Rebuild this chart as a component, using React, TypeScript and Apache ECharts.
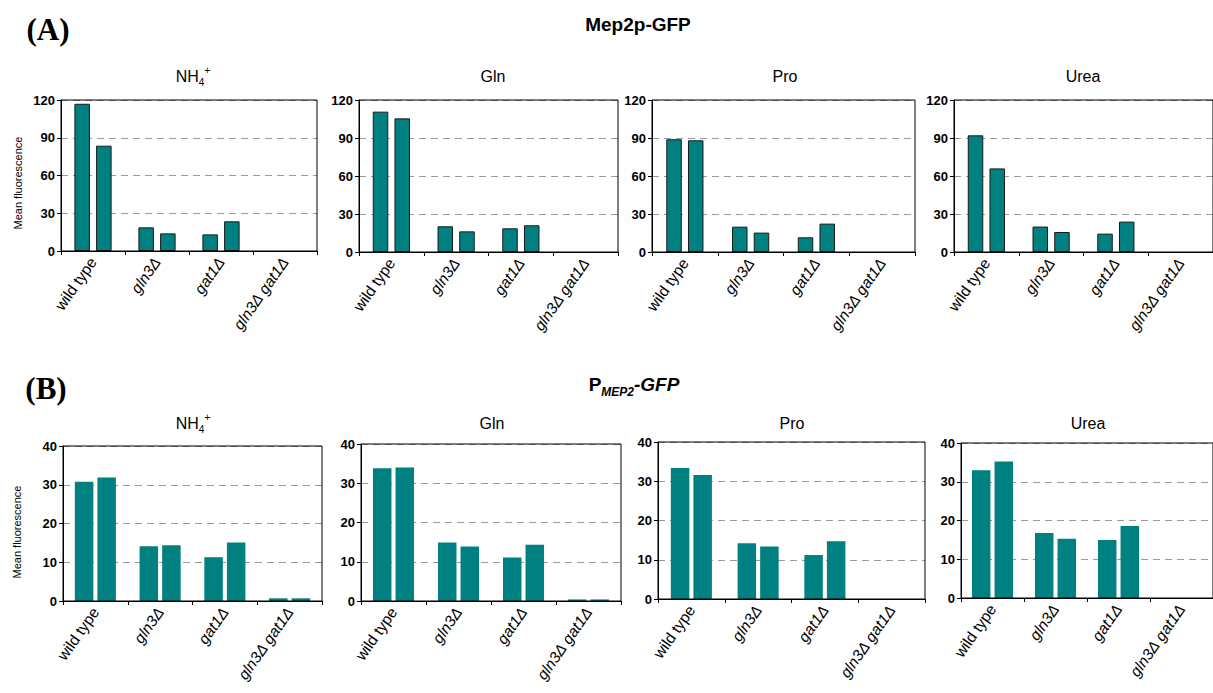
import React, { useEffect, useRef } from "react";
import * as echarts from "echarts";

const categories = ["wild type", "gln3Δ", "gat1Δ", "gln3Δ gat1Δ"];
const mediaNames = ["NH4+", "Gln", "Pro", "Urea"];
const ticksA = [0, 30, 60, 90, 120];
const ticksB = [0, 10, 20, 30, 40];

// (A) Mep2p-GFP : two measurements per strain
const aNh4First = [117, 18.8, 13.2, 0];
const aNh4Second = [83.7, 14, 23.6, 0];
const aGlnFirst = [110.8, 20.3, 18.7, 0];
const aGlnSecond = [105.5, 16.3, 21.1, 0];
const aProFirst = [89, 20, 11.6, 0];
const aProSecond = [88.2, 15.3, 22.4, 0];
const aUreaFirst = [92.1, 20.1, 14.5, 0];
const aUreaSecond = [66, 15.8, 24, 0];

// (B) PMEP2-GFP
const bNh4First = [30.8, 14.1, 11.3, 0.7];
const bNh4Second = [31.9, 14.4, 15.1, 0.7];
const bGlnFirst = [33.8, 14.9, 11.1, 0.4];
const bGlnSecond = [34.0, 13.9, 14.3, 0.4];
const bProFirst = [33.4, 14.2, 11.2, 0];
const bProSecond = [31.6, 13.4, 14.7, 0];
const bUreaFirst = [33.0, 16.8, 15.0, 0];
const bUreaSecond = [35.2, 15.3, 18.6, 0];

const SANS = "'Liberation Sans', Arial, sans-serif";
const TEAL = "#008080";

export default function App() {
  const ref = useRef<HTMLDivElement>(null);

  useEffect(() => {
    if (!ref.current) return;
    const chart = echarts.init(ref.current, null, { renderer: "svg" });

    const grids = [
      { left: 61, top: 100, width: 256, height: 151 },
      { left: 359, top: 100, width: 259, height: 152 },
      { left: 652, top: 100, width: 263, height: 152 },
      { left: 954, top: 100, width: 263, height: 152 },
      { left: 63, top: 446, width: 259, height: 155 },
      { left: 361, top: 444, width: 260, height: 157 },
      { left: 658, top: 442, width: 267, height: 157 },
      { left: 961, top: 443, width: 264, height: 155 },
    ];

    const dataSets = [
      [aNh4First, aNh4Second],
      [aGlnFirst, aGlnSecond],
      [aProFirst, aProSecond],
      [aUreaFirst, aUreaSecond],
      [bNh4First, bNh4Second],
      [bGlnFirst, bGlnSecond],
      [bProFirst, bProSecond],
      [bUreaFirst, bUreaSecond],
    ];

    const xAxis: any[] = [];
    const yAxis: any[] = [];
    const series: any[] = [];

    grids.forEach((g, i) => {
      const isA = i < 4;
      const ticks = isA ? ticksA : ticksB;
      xAxis.push({
        type: "category",
        gridIndex: i,
        data: categories,
        axisLine: { show: true, lineStyle: { color: "#000", width: 1 } },
        axisTick: { show: true, length: 4, lineStyle: { color: "#000" } },
        splitLine: { show: false },
        axisLabel: {
          interval: 0,
          rotate: 55,
          margin: 8,
          formatter: (v: string) => (v === "wild type" ? `{n|${v}}` : `{i|${v}}`),
          rich: {
            n: { fontFamily: SANS, fontSize: 15.5, color: "#000", fontStyle: "normal" },
            i: { fontFamily: SANS, fontSize: 15.5, color: "#000", fontStyle: "italic" },
          },
        },
      });
      yAxis.push({
        type: "value",
        gridIndex: i,
        min: ticks[0],
        max: ticks[ticks.length - 1],
        interval: ticks[1] - ticks[0],
        axisLine: { show: true, lineStyle: { color: "#000", width: 1 } },
        axisTick: { show: true, length: 4, lineStyle: { color: "#000" } },
        axisLabel: {
          fontFamily: SANS,
          fontSize: 13,
          fontWeight: "bold",
          color: "#000",
          margin: 6,
        },
        splitLine: {
          show: true,
          lineStyle: { color: "#9a9a9a", type: [7, 5], width: 1 },
        },
      });
      dataSets[i].forEach((vals) => {
        series.push({
          type: "bar",
          xAxisIndex: i,
          yAxisIndex: i,
          data: vals.map((v) =>
            isA && v === 0 ? { value: v, itemStyle: { borderWidth: 0 } } : v
          ),
          barWidth: isA ? 15.5 : 18.5,
          barGap: isA ? "40%" : "22%",
          itemStyle: isA
            ? { color: TEAL, borderColor: "#1a1a1a", borderWidth: 1 }
            : { color: TEAL, borderWidth: 0 },
        });
      });
    });

    const titleXA = [193, 493, 785, 1083];
    const titleXB = [193, 492, 792, 1088];

    const panelTitle = (name: string, x: number, y: number) => {
      if (name === "NH4+") {
        return {
          type: "text",
          x,
          y,
          style: {
            text: "{a|NH}{b|4}{c|+}",
            align: "center",
            verticalAlign: "middle",
            rich: {
              a: { fontFamily: SANS, fontSize: 16, fill: "#000", lineHeight: 22, verticalAlign: "middle" },
              b: { fontFamily: SANS, fontSize: 10, fill: "#000", lineHeight: 22, verticalAlign: "bottom" },
              c: { fontFamily: SANS, fontSize: 10, fill: "#000", lineHeight: 22, verticalAlign: "top" },
            },
          },
        };
      }
      return {
        type: "text",
        x,
        y,
        style: {
          text: name,
          fontFamily: SANS,
          fontSize: 16,
          fill: "#000",
          align: "center",
          verticalAlign: "middle",
        },
      };
    };

    const graphic: any[] = [
      {
        type: "text",
        x: 48,
        y: 29,
        style: {
          text: "(A)",
          fontFamily: "'Liberation Serif', 'Times New Roman', serif",
          fontSize: 31,
          fontWeight: "bold",
          fill: "#000",
          align: "center",
          verticalAlign: "middle",
        },
      },
      {
        type: "text",
        x: 46,
        y: 388,
        style: {
          text: "(B)",
          fontFamily: "'Liberation Serif', 'Times New Roman', serif",
          fontSize: 31,
          fontWeight: "bold",
          fill: "#000",
          align: "center",
          verticalAlign: "middle",
        },
      },
      {
        type: "text",
        x: 638,
        y: 24,
        style: {
          text: "Mep2p-GFP",
          fontFamily: SANS,
          fontSize: 19,
          fontWeight: "bold",
          fill: "#000",
          align: "center",
          verticalAlign: "middle",
        },
      },
      {
        type: "text",
        x: 634,
        y: 384,
        style: {
          text: "{p|P}{s|MEP2}{g|-GFP}",
          align: "center",
          verticalAlign: "middle",
          rich: {
            p: { fontFamily: SANS, fontSize: 19, fontWeight: "bold", fill: "#000", lineHeight: 28, verticalAlign: "middle" },
            s: { fontFamily: SANS, fontSize: 12, fontWeight: "bold", fontStyle: "italic", fill: "#000", lineHeight: 28, verticalAlign: "bottom" },
            g: { fontFamily: SANS, fontSize: 19, fontWeight: "bold", fontStyle: "italic", fill: "#000", lineHeight: 28, verticalAlign: "middle" },
          },
        },
      },
      {
        type: "text",
        x: 18,
        y: 183,
        rotation: Math.PI / 2,
        style: {
          text: "Mean fluorescence",
          fontFamily: SANS,
          fontSize: 11,
          fill: "#000",
          align: "center",
          verticalAlign: "middle",
        },
      },
      {
        type: "text",
        x: 17,
        y: 532,
        rotation: Math.PI / 2,
        style: {
          text: "Mean fluorescence",
          fontFamily: SANS,
          fontSize: 11,
          fill: "#000",
          align: "center",
          verticalAlign: "middle",
        },
      },
    ];
    mediaNames.forEach((m, k) => {
      graphic.push(panelTitle(m, titleXA[k], 76));
      graphic.push(panelTitle(m, titleXB[k], 423));
    });

    chart.setOption({
      animation: false,
      backgroundColor: "#fff",
      grid: grids.map((g) => ({
        ...g,
        show: true,
        z: 3,
        borderColor: "#000",
        borderWidth: 1,
        backgroundColor: "transparent",
        containLabel: false,
      })),
      xAxis,
      yAxis,
      series,
      graphic,
    });

    return () => chart.dispose();
  }, []);

  return (
    <div
      ref={ref}
      style={{ position: "absolute", left: 0, top: 0, width: 1213, height: 693 }}
    />
  );
}
